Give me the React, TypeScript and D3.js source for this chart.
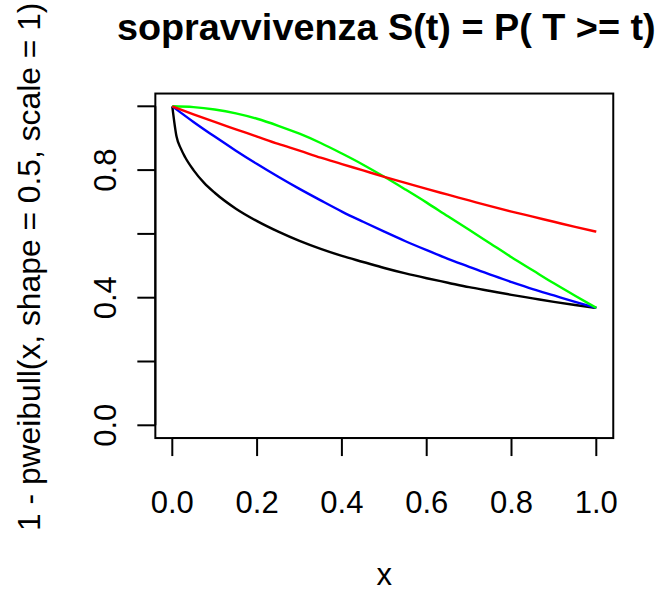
import React from "react";
import * as d3 from "d3";

const W = 659;
const H = 594;

const xTicks = [0, 0.2, 0.4, 0.6, 0.8, 1.0];
const xTickLabels = ["0.0", "0.2", "0.4", "0.6", "0.8", "1.0"];
const yTicks = [0, 0.2, 0.4, 0.6, 0.8, 1.0];
const yLabelTicks = [0, 0.4, 0.8];
const yTickLabels = ["0.0", "0.4", "0.8"];

const title = "sopravvivenza S(t) = P( T >= t)";
const xTitle = "x";
const yTitle = "1 - pweibull(x, shape = 0.5, scale = 1)";

// black curve (steep start)
const blackX = [0, 0.01, 0.02, 0.03, 0.05, 0.075, 0.1, 0.15, 0.2, 0.25, 0.3, 0.35, 0.4, 0.45, 0.5, 0.55, 0.6, 0.65, 0.7, 0.75, 0.8, 0.85, 0.9, 0.95, 1.0];
const blackY = [1, 0.905, 0.868, 0.841, 0.8, 0.76, 0.729, 0.679, 0.64, 0.607, 0.578, 0.553, 0.531, 0.512, 0.493, 0.476, 0.461, 0.447, 0.433, 0.421, 0.409, 0.398, 0.387, 0.377, 0.368];

const gridX = [0, 0.05, 0.1, 0.15, 0.2, 0.25, 0.3, 0.35, 0.4, 0.45, 0.5, 0.55, 0.6, 0.65, 0.7, 0.75, 0.8, 0.85, 0.9, 0.95, 1.0];
const blueY = [1, 0.951, 0.905, 0.861, 0.819, 0.779, 0.741, 0.705, 0.67, 0.638, 0.607, 0.577, 0.549, 0.522, 0.497, 0.472, 0.449, 0.427, 0.407, 0.387, 0.368];
const greenY = [1, 0.9975, 0.99, 0.978, 0.961, 0.939, 0.914, 0.885, 0.852, 0.817, 0.779, 0.739, 0.698, 0.655, 0.613, 0.57, 0.527, 0.486, 0.445, 0.406, 0.368];
const redY = [1, 0.975, 0.951, 0.928, 0.905, 0.882, 0.861, 0.839, 0.819, 0.799, 0.779, 0.76, 0.741, 0.723, 0.705, 0.687, 0.67, 0.654, 0.638, 0.622, 0.607];

const FONT = "'Liberation Sans', Arial, Helvetica, sans-serif";

export default function App() {
  const x = d3.scaleLinear().domain([0, 1]).range([172.3, 596.3]);
  const y = d3.scaleLinear().domain([0, 1]).range([425.3, 106.3]);
  const x0 = x(-0.04), x1 = x(1.04);
  const y0 = y(-0.04), y1 = y(1.04);
  const line = d3
    .line<[number, number]>()
    .x((d) => x(d[0]))
    .y((d) => y(d[1]))
    .curve(d3.curveMonotoneX);

  const series = [
    { xs: blackX, ys: blackY, color: "#000000" },
    { xs: gridX, ys: blueY, color: "#0000FF" },
    { xs: gridX, ys: greenY, color: "#00FF00" },
    { xs: gridX, ys: redY, color: "#FF0000" },
  ];

  const tl = 18;
  return (
    <div style={{ position: "absolute", left: 0, top: 0 }}>
      <svg width={W} height={H} style={{ display: "block", background: "#fff" }}>
        <rect x={0} y={0} width={W} height={H} fill="#fff" />
        <g fontFamily={FONT}>
          <text x={(x0 + x1) / 2 + 2} y={40} textAnchor="middle" fontWeight="bold" fontSize={37.8}>
            {title}
          </text>
          {series.map((s, i) => (
            <path
              key={i}
              d={line(s.xs.map((v, j) => [v, s.ys[j]] as [number, number])) || ""}
              fill="none"
              stroke={s.color}
              strokeWidth={2.4}
            />
          ))}
          <rect x={x0} y={y1} width={x1 - x0} height={y0 - y1} fill="none" stroke="#000" strokeWidth={2} />
          {/* x axis */}
          <line x1={x(0)} x2={x(1)} y1={y0} y2={y0} stroke="#000" strokeWidth={2} />
          {xTicks.map((t, i) => (
            <g key={"xt" + i}>
              <line x1={x(t)} x2={x(t)} y1={y0} y2={y0 + tl} stroke="#000" strokeWidth={2} />
              <text x={x(t)} y={513} textAnchor="middle" fontSize={31}>
                {xTickLabels[i]}
              </text>
            </g>
          ))}
          {/* y axis */}
          <line x1={x0} x2={x0} y1={y(0)} y2={y(1)} stroke="#000" strokeWidth={2} />
          {yTicks.map((t, i) => (
            <line key={"yt" + i} x1={x0 - tl} x2={x0} y1={y(t)} y2={y(t)} stroke="#000" strokeWidth={2} />
          ))}
          {yLabelTicks.map((t, i) => (
            <text
              key={"yl" + i}
              transform={`translate(116,${y(t)}) rotate(-90)`}
              textAnchor="middle"
              fontSize={31}
            >
              {yTickLabels[i]}
            </text>
          ))}
          <text x={(x0 + x1) / 2} y={585} textAnchor="middle" fontSize={31}>
            {xTitle}
          </text>
          <text
            transform={`translate(40,${(y0 + y1) / 2 + 1}) rotate(-90)`}
            textAnchor="middle"
            fontSize={31.8}
          >
            {yTitle}
          </text>
        </g>
      </svg>
    </div>
  );
}
